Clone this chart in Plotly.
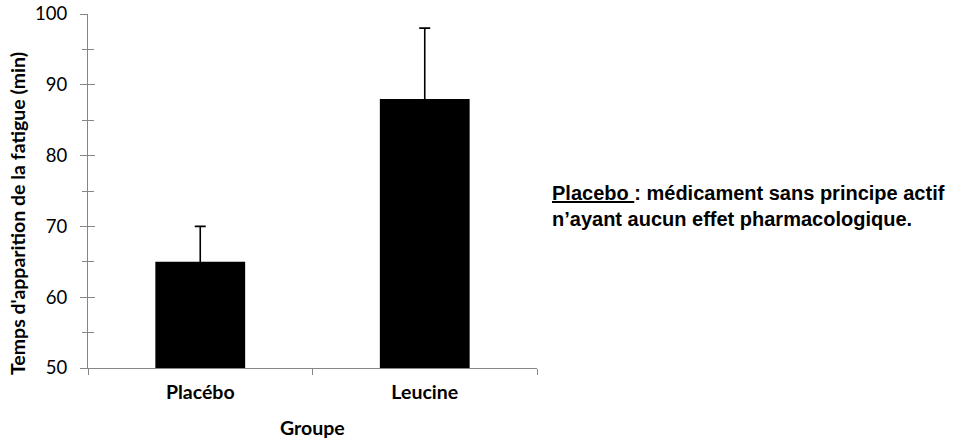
import plotly.graph_objects as go

groups = ["Placébo", "Leucine"]
means = [65, 88]
errors = [5, 10]
y_ticks = [50, 60, 70, 80, 90, 100]

axis_color = "#868686"
base_font = "Lato, 'Open Sans', sans-serif"

fig = go.Figure()
fig.add_trace(go.Bar(
    x=groups, y=means, width=0.4,
    marker=dict(color="black", line=dict(width=0)),
    error_y=dict(type="data", array=errors, symmetric=True,
                 color="black", thickness=1.6, width=5.5),
    showlegend=False,
))
# invisible trace on overlay axis to carry inside ticks
fig.add_trace(go.Scatter(x=groups, y=means, yaxis="y2", mode="markers",
                         marker=dict(opacity=0), showlegend=False, hoverinfo="skip"))

fig.update_layout(
    width=961, height=439,
    margin=dict(l=88, r=424, t=14, b=71, autoexpand=False),
    paper_bgcolor="white", plot_bgcolor="white",
    font=dict(family=base_font, color="black"),
    xaxis=dict(
        type="category", showline=True, linecolor=axis_color, linewidth=1,
        ticks="outside", tickson="boundaries", ticklen=6, tickcolor=axis_color,
        showgrid=False, zeroline=False, automargin=False,
        tickfont=dict(size=19.5, family=base_font, weight="bold"),
        ticklabelstandoff=7,
    ),
    yaxis=dict(
        range=[50, 100], tickvals=y_ticks, showline=True, linecolor=axis_color,
        linewidth=1, ticks="outside", ticklen=7, tickcolor=axis_color,
        minor=dict(dtick=5, ticks="outside", ticklen=5, tickcolor=axis_color),
        showgrid=False, zeroline=False, automargin=False,
        tickfont=dict(size=18.5, family=base_font),
        ticklabelstandoff=9,
    ),
    yaxis2=dict(
        range=[50, 100], overlaying="y", side="left", tickvals=y_ticks,
        ticks="inside", ticklen=7, tickcolor=axis_color, showticklabels=False,
        minor=dict(dtick=5, ticks="inside", ticklen=6, tickcolor=axis_color),
        showgrid=False, zeroline=False, showline=False, automargin=False,
    ),
    annotations=[
        dict(text="<b>Temps d'apparition de la fatigue (min)</b>", textangle=-90,
             xref="paper", yref="paper", x=(17 - 88) / 449, y=(368 - 214) / 354,
             xanchor="center", yanchor="middle", showarrow=False,
             font=dict(size=19.5, family=base_font)),
        dict(text="<b>Groupe</b>", xref="paper", yref="paper",
             x=0.5, y=(368 - 427) / 354, xanchor="center", yanchor="middle",
             showarrow=False, font=dict(size=19.5, family=base_font)),
        dict(text="<b><u>Placebo </u>: médicament sans principe actif<br>n’ayant aucun effet pharmacologique.</b>",
             xref="paper", yref="paper", x=(550 - 88) / 449, y=(368 - 206) / 354,
             xanchor="left", yanchor="middle", align="left", showarrow=False,
             font=dict(size=20, family="'Liberation Sans', Arial, sans-serif")),
    ],
)

fig.write_html("out.html", config={"displayModeBar": False},
               post_script="document.body.style.margin='0';")
